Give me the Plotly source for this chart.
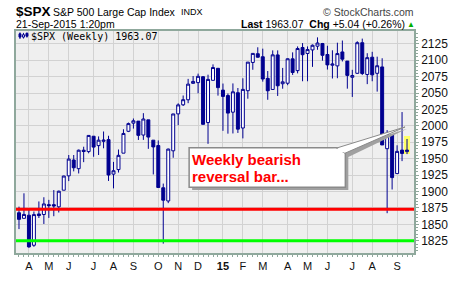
import plotly.graph_objects as go
from datetime import datetime, timedelta

# ---------------- data ----------------
dates = [
    "2014-03-24", "2014-03-31", "2014-04-07", "2014-04-14", "2014-04-21", "2014-04-28",
    "2014-05-05", "2014-05-12", "2014-05-19", "2014-05-26", "2014-06-02", "2014-06-09",
    "2014-06-16", "2014-06-23", "2014-06-30", "2014-07-07", "2014-07-14", "2014-07-21",
    "2014-07-28", "2014-08-04", "2014-08-11", "2014-08-18", "2014-08-25", "2014-09-01",
    "2014-09-08", "2014-09-15", "2014-09-22", "2014-09-29", "2014-10-06", "2014-10-13",
    "2014-10-20", "2014-10-27", "2014-11-03", "2014-11-10", "2014-11-17", "2014-11-24",
    "2014-12-01", "2014-12-08", "2014-12-15", "2014-12-22", "2014-12-29", "2015-01-05",
    "2015-01-12", "2015-01-19", "2015-01-26", "2015-02-02", "2015-02-09", "2015-02-16",
    "2015-02-23", "2015-03-02", "2015-03-09", "2015-03-16", "2015-03-23", "2015-03-30",
    "2015-04-06", "2015-04-13", "2015-04-20", "2015-04-27", "2015-05-04", "2015-05-11",
    "2015-05-18", "2015-05-25", "2015-06-01", "2015-06-08", "2015-06-15", "2015-06-22",
    "2015-06-29", "2015-07-06", "2015-07-13", "2015-07-20", "2015-07-27", "2015-08-03",
    "2015-08-10", "2015-08-17", "2015-08-24", "2015-08-31", "2015-09-07", "2015-09-14",
    "2015-09-21",
]
opens = [
    1867.7, 1859.2, 1863.9, 1818.2, 1865.8, 1865.0, 1880.0, 1880.0, 1876.7, 1902.0,
    1923.9, 1948.0, 1934.8, 1962.9, 1960.8, 1984.2, 1969.9, 1976.4, 1979.0, 1926.5,
    1933.4, 1958.4, 1991.7, 2004.1, 2007.2, 1986.0, 2009.1, 1978.2, 1970.0, 1905.7,
    1885.6, 1962.0, 2018.2, 2032.0, 2039.7, 2064.7, 2065.8, 2074.8, 2005.0, 2069.3,
    2087.6, 2054.4, 2046.1, 2020.8, 2050.4, 1996.7, 2053.5, 2096.5, 2109.8, 2105.2,
    2072.3, 2055.4, 2108.0, 2064.1, 2064.9, 2102.0, 2084.1, 2119.3, 2110.2, 2115.6,
    2121.3, 2125.3, 2108.6, 2092.3, 2091.3, 2112.5, 2098.6, 2073.9, 2080.0, 2126.6,
    2078.2, 2104.5, 2080.0, 2089.7, 1965.2, 1986.7, 1927.3, 1963.1, 1960.8,
]
highs = [
    1877.0, 1897.3, 1872.5, 1869.6, 1884.9, 1891.3, 1887.3, 1902.2, 1901.3, 1924.0,
    1955.6, 1955.6, 1963.9, 1968.2, 1985.6, 1984.2, 1983.9, 1991.4, 1984.9, 1945.1,
    1964.0, 1994.8, 2005.0, 2011.2, 2007.2, 2019.3, 2009.1, 1978.3, 1977.8, 1912.1,
    1965.3, 2018.2, 2034.3, 2046.2, 2071.5, 2075.8, 2079.5, 2075.8, 2077.9, 2093.6,
    2088.1, 2064.4, 2049.3, 2064.6, 2057.6, 2072.4, 2097.0, 2110.6, 2119.6, 2117.5,
    2083.5, 2114.9, 2114.9, 2088.2, 2102.6, 2111.9, 2120.9, 2126.0, 2120.9, 2123.9,
    2134.7, 2126.2, 2121.9, 2115.0, 2126.6, 2129.9, 2098.6, 2085.3, 2128.8, 2132.8,
    2110.6, 2112.7, 2105.3, 2102.9, 1993.5, 1986.7, 1970.4, 2021.0, 1980.0,
]
lows = [
    1842.8, 1859.2, 1814.4, 1815.8, 1859.7, 1850.6, 1859.8, 1862.4, 1868.1, 1902.0,
    1915.9, 1930.7, 1927.5, 1944.7, 1958.2, 1952.9, 1955.6, 1965.8, 1916.1, 1904.8,
    1928.9, 1958.4, 1990.5, 1995.8, 1978.5, 1978.6, 1965.0, 1926.0, 1906.1, 1820.7,
    1882.3, 1951.4, 2001.0, 2030.2, 2034.5, 2064.5, 2049.6, 2002.3, 1972.6, 2069.3,
    2046.0, 1992.4, 1988.1, 1988.4, 1989.2, 1980.9, 2041.3, 2085.4, 2103.8, 2067.3,
    2039.7, 2055.4, 2045.5, 2056.5, 2061.9, 2077.5, 2079.9, 2067.9, 2067.9, 2089.8,
    2115.8, 2099.2, 2085.7, 2072.1, 2072.5, 2098.0, 2056.6, 2044.0, 2079.3, 2077.3,
    2063.5, 2067.9, 2052.1, 1970.9, 1867.0, 1903.1, 1927.3, 1946.3, 1957.0,
]
closes = [
    1857.6, 1865.1, 1815.7, 1864.9, 1863.4, 1881.1, 1878.5, 1877.9, 1900.5, 1923.6,
    1949.4, 1936.2, 1962.9, 1960.9, 1985.4, 1967.6, 1978.2, 1978.3, 1925.2, 1931.6,
    1955.1, 1988.4, 2003.4, 2007.7, 1985.5, 2010.4, 1982.9, 1967.9, 1906.1, 1886.8,
    1964.6, 2018.1, 2031.9, 2039.8, 2063.5, 2067.6, 2075.4, 2002.3, 2070.7, 2088.8,
    2058.2, 2044.8, 2019.4, 2051.8, 1995.0, 2055.5, 2097.0, 2110.3, 2104.5, 2071.3,
    2053.4, 2108.1, 2061.0, 2067.0, 2102.1, 2081.2, 2117.7, 2108.3, 2116.1, 2122.7,
    2126.1, 2107.4, 2092.8, 2094.1, 2110.0, 2101.5, 2076.8, 2076.6, 2126.6, 2079.7,
    2103.8, 2077.6, 2091.5, 1970.9, 1988.9, 1921.2, 1961.1, 1958.0, 1963.1,
]
month_ticks = [
    "2014-04-07", "2014-05-05", "2014-06-02", "2014-07-07", "2014-08-04", "2014-09-01",
    "2014-10-06", "2014-11-03", "2014-12-01", "2015-01-05", "2015-02-02", "2015-03-02",
    "2015-04-06", "2015-05-04", "2015-06-01", "2015-07-06", "2015-08-03", "2015-09-07",
]
month_labels = ["A", "M", "J", "J", "A", "S", "O", "N", "D", "<b>15</b>",
                "F", "M", "A", "M", "J", "J", "A", "S"]
y_ticks = [1825, 1850, 1875, 1900, 1925, 1950, 1975, 2000, 2025, 2050, 2075, 2100, 2125]
red_level = 1873
green_level = 1825

# ---------------- layout helpers ----------------
W, H = 460, 284
ML, MR, MT, MB = 16, 44, 31, 17
PW, PH = W - ML - MR, H - MT - MB


def px(X):
    return (X - ML) / PW


def py(Y):
    return (H - MB - Y) / PH


NAVY = "#000090"
AXC = "#8fa89c"
FONT = "Liberation Sans, Arial, sans-serif"

d0 = datetime.strptime(dates[0], "%Y-%m-%d")
x_lo = d0 + timedelta(days=-0.6 * 7)
x_hi = d0 + timedelta(days=79.4 * 7)

fig = go.Figure()

# highlight of the current bar
fig.add_trace(go.Bar(
    x=[dates[-1]], y=[highs[-1] - lows[-1] + 5], base=[lows[-1]],
    width=[7 * 24 * 3600 * 1000 * 1.3],
    marker=dict(color="#ffff66", line=dict(width=0)),
    hoverinfo="skip", showlegend=False,
))

fig.add_trace(go.Candlestick(
    x=dates, open=opens, high=highs, low=lows, close=closes,
    increasing=dict(line=dict(color=NAVY, width=1), fillcolor="#ffffff"),
    decreasing=dict(line=dict(color=NAVY, width=1), fillcolor=NAVY),
    whiskerwidth=0, showlegend=False,
))

shapes = []
# horizontal levels
shapes.append(dict(type="line", xref="paper", x0=0, x1=1, yref="y", y0=red_level, y1=red_level,
                   line=dict(color="#ff0000", width=3)))
shapes.append(dict(type="line", xref="paper", x0=0, x1=1, yref="y", y0=green_level, y1=green_level,
                   line=dict(color="#00ff00", width=3)))


def rect(x0, y0, x1, y1, **kw):
    return dict(type="rect", xref="paper", yref="paper",
                x0=px(x0), x1=px(x1), y0=py(y1), y1=py(y0), **kw)


def path(points, **kw):
    d = "M " + " L ".join(f"{px(a):.5f},{py(b):.5f}" for a, b in points) + " Z"
    return dict(type="path", xref="paper", yref="paper", path=d, **kw)


# callout box with shadow and pointer
shapes.append(path([(341, 158), (409, 135), (350, 165)], fillcolor="#a0a0a0", line=dict(width=0)))
shapes.append(rect(193, 158, 350, 200, fillcolor="#a0a0a0", line=dict(width=0)))
shapes.append(rect(190, 155, 347, 197, fillcolor="#ffffff", line=dict(color="#8a8a8a", width=1.5)))
shapes.append(path([(338, 155.5), (407, 133), (346.5, 161)], fillcolor="#ffffff",
                   line=dict(color="#8a8a8a", width=1)))
shapes.append(rect(335, 156.3, 346, 160, fillcolor="#ffffff", line=dict(width=0)))

# little candlestick icon of the legend
for (xa, ya0, ya1, bx0, by0, bx1, by1, fill) in [
    (20, 32.5, 39.5, 19, 34, 21, 37.5, NAVY),
    (23.5, 33, 39, 22.5, 35, 24.5, 37.5, "#ffffff"),
    (27, 32.5, 38, 26, 33.5, 28, 36.5, NAVY),
]:
    shapes.append(dict(type="line", xref="paper", yref="paper", x0=px(xa), x1=px(xa),
                       y0=py(ya1), y1=py(ya0), line=dict(color=NAVY, width=1)))
    shapes.append(rect(bx0, by0, bx1, by1, fillcolor=fill, line=dict(color=NAVY, width=1)))


def ann(text, X, Y, size, color="#000000", family=FONT, xanchor="left", **kw):
    return dict(text=text, x=px(X), y=py(Y), xref="paper", yref="paper", showarrow=False,
                xanchor=xanchor, yanchor="middle", font=dict(size=size, color=color, family=family),
                borderpad=0, **kw)


annotations = [
    ann("<b>$SPX</b>", 15, 10, 13.5),
    ann("S&P 500 Large Cap Index", 52, 10.5, 10.5),
    ann("INDX", 181, 10.5, 9),
    ann("© StockCharts.com", 417, 11, 10.5, color="#444444", xanchor="right"),
    ann("21-Sep-2015 1:20pm", 15, 24, 10.5),
    ann("<b>Last</b> 1963.07  <b>Chg</b> +5.04 (+0.26%)", 408, 24, 10.5, xanchor="right"),
    ann("▲", 418, 24, 8, color="#00b000", xanchor="right"),
    ann("$SPX (Weekly) 1963.07", 30, 36.5, 10, family="DejaVu Sans Mono, monospace"),
    ann("<b>Weekly bearish</b>", 192, 168, 15, color="#ff0000"),
    ann("<b>reversal bar...</b>", 192, 186, 15, color="#ff0000"),
]

fig.update_layout(
    width=W, height=H,
    margin=dict(l=ML, r=MR, t=MT, b=MB, pad=0),
    paper_bgcolor="#ffffff", plot_bgcolor="#efefef",
    boxgap=0.15,
    bargap=0,
    showlegend=False,
    shapes=shapes,
    annotations=annotations,
    xaxis=dict(
        type="date", range=[x_lo, x_hi], rangeslider=dict(visible=False),
        tickvals=month_ticks, ticktext=month_labels,
        tickfont=dict(size=11, color="#111111", family=FONT),
        showgrid=True, gridcolor="#d2d2d2", gridwidth=1,
        showline=True, linecolor=AXC, linewidth=1.5, mirror=True,
        ticks="outside", ticklen=2, tickcolor=AXC,
        minor=dict(ticks="outside", ticklen=2, tickcolor=AXC, dtick=7 * 24 * 3600 * 1000,
                   tick0=dates[0], showgrid=False),
        zeroline=False, fixedrange=True,
    ),
    yaxis=dict(
        side="right", range=[1806.4, 2144.4], tickvals=y_ticks,
        tickfont=dict(size=12, color="#111111", family=FONT),
        showgrid=True, gridcolor="#d2d2d2", gridwidth=1,
        showline=True, linecolor=AXC, linewidth=1.5, mirror=True,
        ticks="outside", ticklen=3, tickcolor=AXC,
        minor=dict(ticks="outside", ticklen=2, tickcolor=AXC, dtick=5, showgrid=False),
        zeroline=False, fixedrange=True,
    ),
)

fig.write_html("out.html")
